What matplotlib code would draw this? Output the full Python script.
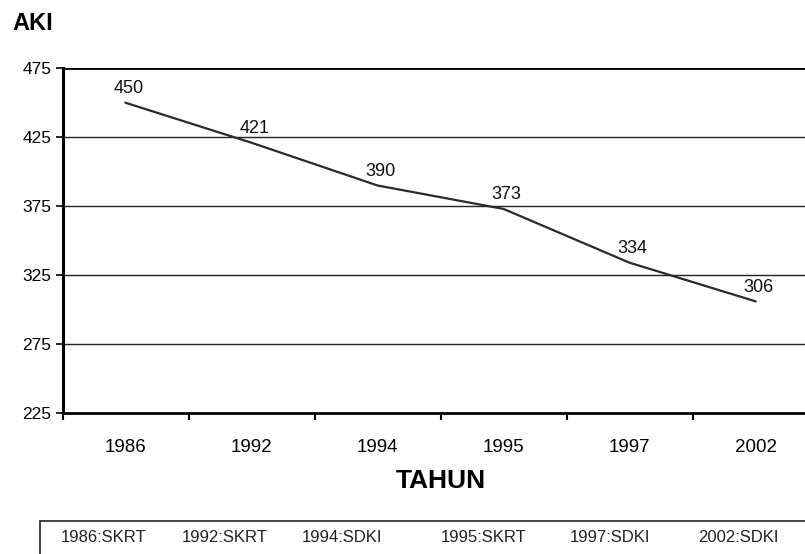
import numpy as np
import matplotlib.pyplot as plt

plt.rcParams["font.family"] = ["Liberation Sans", "DejaVu Sans"]

years = ["1986", "1992", "1994", "1995", "1997", "2002"]
aki = [450, 421, 390, 373, 334, 306]
sources = ["SKRT", "SKRT", "SDKI", "SKRT", "SDKI", "SDKI"]
y_ticks = [225, 275, 325, 375, 425, 475]

fig = plt.figure(figsize=(8.05, 5.54), dpi=100)
ax = fig.add_axes([0.0778, 0.2545, 0.939, 0.6222])

x = np.arange(len(years))
ax.plot(x, aki, color="#2a2a2a", lw=1.6, zorder=3)
for xi, v in zip(x, aki):
    ax.annotate(str(v), (xi, v), xytext=(2, 4), textcoords="offset points",
                ha="center", va="bottom", fontsize=13, color="#111111")

ax.set_xlim(-0.5, len(years) - 0.5)
ax.set_ylim(y_ticks[0], y_ticks[-1])
ax.set_yticks(y_ticks)
ax.set_xticks(x)
ax.set_xticklabels(years, fontsize=13.5)
ax.set_xticks(np.arange(len(years)) - 0.5, minor=True)
ax.tick_params(axis="x", which="major", length=0, pad=19)
ax.tick_params(axis="x", which="minor", length=5, width=1.5, direction="out")
ax.tick_params(axis="y", length=5, width=1.2, labelsize=12.5, pad=3)

for yv in y_ticks[1:-1]:
    ax.axhline(yv, color="#222222", lw=1.0, zorder=1)
ax.axhline(y_ticks[-1], color="black", lw=2.0, zorder=1)

for side in ["top", "right"]:
    ax.spines[side].set_visible(False)
ax.spines["left"].set_linewidth(2.2)
ax.spines["bottom"].set_linewidth(2.0)

ax.set_xlabel("TAHUN", fontsize=19, fontweight="bold", labelpad=9)
fig.text(0.016, 0.958, "AKI", fontsize=17, fontweight="bold", va="center")

# source box at the bottom
box = plt.Rectangle((0.05, -0.05), 1.0, 0.11, transform=fig.transFigure,
                    fill=False, lw=1.2, ec="#222222")
fig.patches.append(box)
legend_x = [0.075, 0.226, 0.375, 0.548, 0.708, 0.867]
for lx, yr, src in zip(legend_x, years, sources):
    fig.text(lx, 0.03, f"{yr}:{src}", fontsize=12, va="center", color="#222222")

fig.savefig("out.png", dpi=100)
